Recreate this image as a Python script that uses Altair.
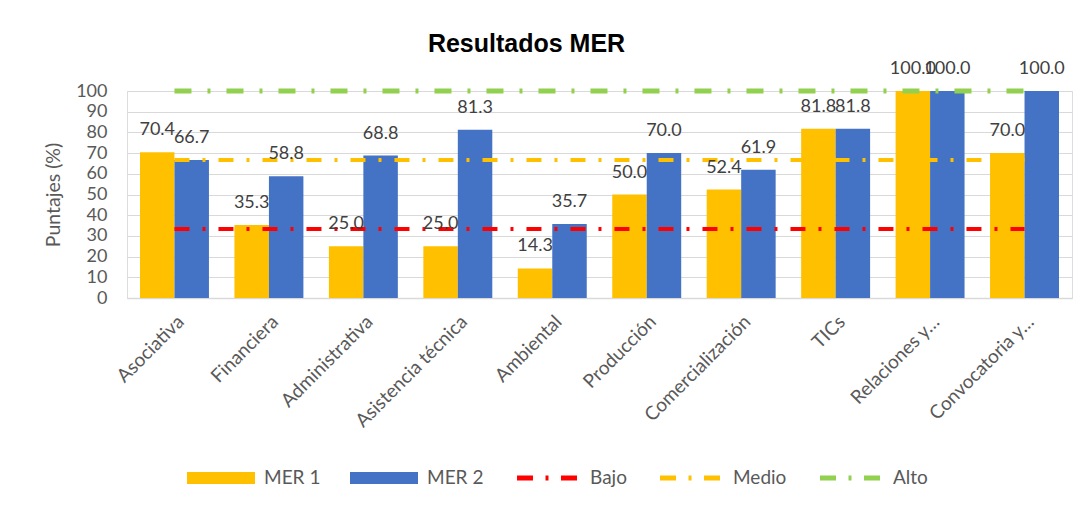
import altair as alt
import pandas as pd

# ---- data ----
categorias = ["Asociativa", "Financiera", "Administrativa", "Asistencia técnica",
              "Ambiental", "Producción", "Comercialización", "TICs",
              "Relaciones y…", "Convocatoria y…"]
mer1 = [70.4, 35.3, 25.0, 25.0, 14.3, 50.0, 52.4, 81.8, 100.0, 70.0]
mer2 = [66.7, 58.8, 68.8, 81.3, 35.7, 70.0, 61.9, 81.8, 100.0, 100.0]
bajo = [33.3, 33.3, 33.3, 33.3, 33.3, 33.3, 33.3, 33.3, 33.3, 33.3]
medio = [66.7, 66.7, 66.7, 66.7, 66.7, 66.7, 66.7, 66.7, 66.7, 66.7]
alto = [100.0, 100.0, 100.0, 100.0, 100.0, 100.0, 100.0, 100.0, 100.0, 100.0]
y_ticks = [0, 10, 20, 30, 40, 50, 60, 70, 80, 90, 100]
series_barras = ["MER 1", "MER 2"]
series_lineas = ["Bajo", "Medio", "Alto"]
leyenda = ["MER 1", "MER 2", "Bajo", "Medio", "Alto"]

# ---- styles ----
c_mer1, c_mer2 = "#FFC000", "#4472C4"
c_bajo, c_medio, c_alto = "#FF0000", "#FFC000", "#92D050"
gris = "#595959"
FONT = "Lato"

rect_path = "M-1,-0.176H1V0.176H-1Z"
dash_path = ("M-0.882,-0.074H-0.412V0.074H-0.882Z "
             "M-0.044,-0.074H0.044V0.074H-0.044Z "
             "M0.412,-0.074H0.882V0.074H0.412Z")

bars_df = pd.DataFrame({
    "cat": categorias * 2,
    "serie": ["MER 1"] * len(categorias) + ["MER 2"] * len(categorias),
    "valor": mer1 + mer2,
})
lines_df = pd.DataFrame({
    "cat": categorias * 3,
    "serie": ["Bajo"] * 10 + ["Medio"] * 10 + ["Alto"] * 10,
    "valor": bajo + medio + alto,
})
legend_df = pd.DataFrame({"serie": leyenda})

x_enc = alt.X("cat:N", sort=categorias,
              scale=alt.Scale(paddingInner=0.27, paddingOuter=0.1376),
              axis=alt.Axis(title=None, labelAngle=-45, labelFontSize=19,
                            labelColor=gris, labelFont=FONT, ticks=False,
                            domainColor="#D9D9D9", domainWidth=1.5,
                            labelPadding=14, grid=False, labelOverlap=False))
y_enc = alt.Y("valor:Q", scale=alt.Scale(domain=[0, 100], nice=False),
              axis=alt.Axis(values=y_ticks, tickCount=11, title="Puntajes (%)",
                            titleFontSize=19.5, titleFontWeight="normal",
                            titleColor=gris, titleFont=FONT,
                            labelFontSize=18, labelColor=gris, labelFont=FONT,
                            ticks=False, domain=False, gridColor="#D9D9D9",
                            labelPadding=20, titlePadding=12,
                            labelOverlap=False, labelBound=False))
xoff = alt.XOffset("serie:N", sort=series_barras,
                   scale=alt.Scale(paddingInner=0, paddingOuter=0))

bars = alt.Chart(bars_df).mark_bar().encode(
    x=x_enc, y=y_enc, xOffset=xoff,
    fill=alt.Fill("serie:N", scale=alt.Scale(domain=series_barras,
                                             range=[c_mer1, c_mer2]),
                  legend=None),
)

def linea(nombre, color, dash, width):
    return alt.Chart(lines_df).transform_filter(
        alt.datum.serie == nombre
    ).mark_line(color=color, strokeDash=dash, strokeWidth=width).encode(
        x=x_enc, y=y_enc)

l_bajo = linea("Bajo", c_bajo, [15, 13, 3, 13], 4)
l_medio = linea("Medio", c_medio, [15, 13, 3, 13], 4)
l_alto = linea("Alto", c_alto, [17, 16, 3, 16], 5)

labels = alt.Chart(bars_df).mark_text(
    font=FONT, fontSize=18, color="#404040", baseline="alphabetic", dy=-17
).encode(
    x=x_enc, y=y_enc, xOffset=xoff,
    text=alt.Text("valor:Q", format=".1f"),
)

leg_props = dict(title=None, orient="none", direction="horizontal",
                 legendX=60, legendY=353, symbolSize=4624, symbolOpacity=1,
                 symbolStrokeWidth=0, labelFont=FONT, labelFontSize=19,
                 labelColor=gris, labelOffset=9, columnPadding=29, padding=0)
legend_layer = alt.Chart(legend_df).mark_point(filled=True).encode(
    color=alt.Color("serie:N", sort=leyenda,
                    scale=alt.Scale(domain=leyenda,
                                    range=[c_mer1, c_mer2, c_bajo, c_medio, c_alto]),
                    legend=alt.Legend(**leg_props)),
    shape=alt.Shape("serie:N", sort=leyenda,
                    scale=alt.Scale(domain=leyenda,
                                    range=[rect_path, rect_path, dash_path,
                                           dash_path, dash_path]),
                    legend=alt.Legend(**leg_props)),
    fillOpacity=alt.value(0),
    strokeOpacity=alt.value(0),
)

chart = alt.layer(bars, l_bajo, l_medio, l_alto, labels, legend_layer).properties(
    width=945, height=207,
    title=alt.TitleParams("Resultados MER", font="Liberation Sans", fontSize=25,
                          fontWeight="bold", color="black", anchor="middle",
                          frame="group", dx=-73, dy=25, baseline="alphabetic",
                          offset=8),
    autosize=alt.AutoSizeParams(type="none"),
    padding={"left": 119, "top": 83, "right": 11, "bottom": 200},
).configure_view(stroke=None).configure(background="white")

chart.save("out.html", embed_options={"renderer": "svg", "actions": False})
